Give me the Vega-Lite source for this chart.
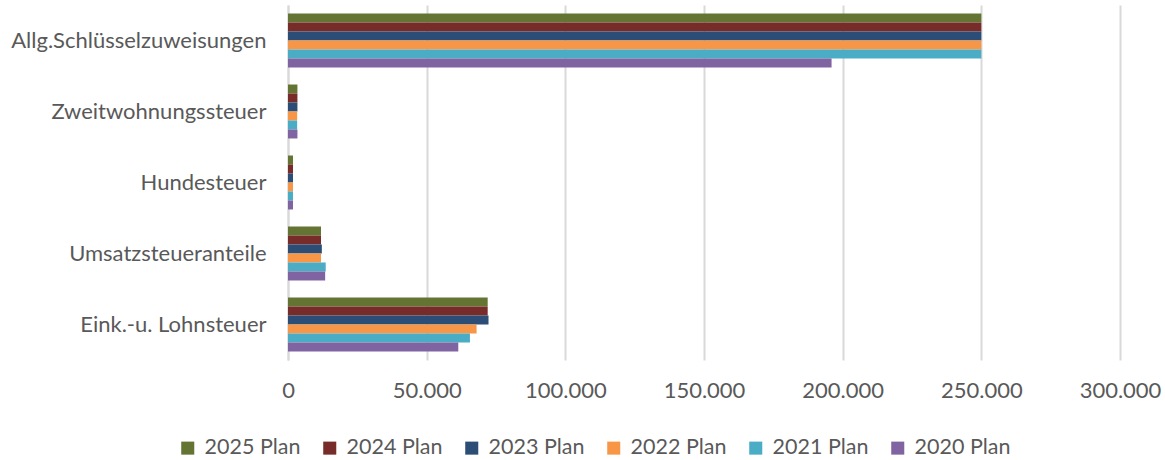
{
  "$schema": "https://vega.github.io/schema/vega-lite/v6.json",
  "autosize": "none",
  "width": 832,
  "height": 355,
  "padding": {"left": 288, "top": 5, "right": 45, "bottom": 100},
  "background": "white",
  "config": {
    "font": "Lato",
    "view": {"stroke": null}
  },
  "data": {
    "values": [
      {"kategorie": "Allg.Schlüsselzuweisungen", "serie": "2025 Plan", "wert": 250000},
      {"kategorie": "Allg.Schlüsselzuweisungen", "serie": "2024 Plan", "wert": 250000},
      {"kategorie": "Allg.Schlüsselzuweisungen", "serie": "2023 Plan", "wert": 250000},
      {"kategorie": "Allg.Schlüsselzuweisungen", "serie": "2022 Plan", "wert": 250000},
      {"kategorie": "Allg.Schlüsselzuweisungen", "serie": "2021 Plan", "wert": 250000},
      {"kategorie": "Allg.Schlüsselzuweisungen", "serie": "2020 Plan", "wert": 196000},
      {"kategorie": "Zweitwohnungssteuer ", "serie": "2025 Plan", "wert": 3400},
      {"kategorie": "Zweitwohnungssteuer ", "serie": "2024 Plan", "wert": 3400},
      {"kategorie": "Zweitwohnungssteuer ", "serie": "2023 Plan", "wert": 3400},
      {"kategorie": "Zweitwohnungssteuer ", "serie": "2022 Plan", "wert": 3300},
      {"kategorie": "Zweitwohnungssteuer ", "serie": "2021 Plan", "wert": 3300},
      {"kategorie": "Zweitwohnungssteuer ", "serie": "2020 Plan", "wert": 3400},
      {"kategorie": "Hundesteuer", "serie": "2025 Plan", "wert": 1800},
      {"kategorie": "Hundesteuer", "serie": "2024 Plan", "wert": 1800},
      {"kategorie": "Hundesteuer", "serie": "2023 Plan", "wert": 1800},
      {"kategorie": "Hundesteuer", "serie": "2022 Plan", "wert": 1800},
      {"kategorie": "Hundesteuer", "serie": "2021 Plan", "wert": 1800},
      {"kategorie": "Hundesteuer", "serie": "2020 Plan", "wert": 1800},
      {"kategorie": "Umsatzsteueranteile", "serie": "2025 Plan", "wert": 11900},
      {"kategorie": "Umsatzsteueranteile", "serie": "2024 Plan", "wert": 11900},
      {"kategorie": "Umsatzsteueranteile", "serie": "2023 Plan", "wert": 12200},
      {"kategorie": "Umsatzsteueranteile", "serie": "2022 Plan", "wert": 11900},
      {"kategorie": "Umsatzsteueranteile", "serie": "2021 Plan", "wert": 13600},
      {"kategorie": "Umsatzsteueranteile", "serie": "2020 Plan", "wert": 13400},
      {"kategorie": "Eink.-u. Lohnsteuer", "serie": "2025 Plan", "wert": 72000},
      {"kategorie": "Eink.-u. Lohnsteuer", "serie": "2024 Plan", "wert": 72000},
      {"kategorie": "Eink.-u. Lohnsteuer", "serie": "2023 Plan", "wert": 72300},
      {"kategorie": "Eink.-u. Lohnsteuer", "serie": "2022 Plan", "wert": 68000},
      {"kategorie": "Eink.-u. Lohnsteuer", "serie": "2021 Plan", "wert": 65600},
      {"kategorie": "Eink.-u. Lohnsteuer", "serie": "2020 Plan", "wert": 61400}
    ]
  },
  "mark": {"type": "bar"},
  "encoding": {
    "y": {
      "field": "kategorie",
      "type": "nominal",
      "sort": ["Allg.Schlüsselzuweisungen", "Zweitwohnungssteuer ", "Hundesteuer", "Umsatzsteueranteile", "Eink.-u. Lohnsteuer"],
      "scale": {"paddingInner": 0.24, "paddingOuter": 0.12},
      "axis": {
        "title": null,
        "ticks": false,
        "domainColor": "#D9D9D9",
        "domainWidth": 2,
        "labelFontSize": 22,
        "labelColor": "#595959",
        "labelPadding": 22,
        "labelLimit": 300
      }
    },
    "yOffset": {
      "field": "serie",
      "type": "nominal",
      "sort": ["2025 Plan", "2024 Plan", "2023 Plan", "2022 Plan", "2021 Plan", "2020 Plan"],
      "scale": {"paddingInner": 0}
    },
    "x": {
      "field": "wert",
      "type": "quantitative",
      "scale": {"domain": [0, 300000], "nice": false},
      "axis": {
        "title": null,
        "values": [0, 50000, 100000, 150000, 200000, 250000, 300000],
        "format": ",.0f",
        "labelExpr": "replace(datum.label, /,/g, '.')",
        "labelFlush": false,
        "domain": false,
        "ticks": false,
        "gridColor": "#D9D9D9",
        "gridWidth": 2,
        "labelFontSize": 22,
        "labelColor": "#595959",
        "labelPadding": 20
      }
    },
    "color": {
      "field": "serie",
      "type": "nominal",
      "sort": ["2025 Plan", "2024 Plan", "2023 Plan", "2022 Plan", "2021 Plan", "2020 Plan"],
      "scale": {
        "domain": ["2025 Plan", "2024 Plan", "2023 Plan", "2022 Plan", "2021 Plan", "2020 Plan"],
        "range": ["#637433", "#772C2A", "#2C4D75", "#F79646", "#4BACC6", "#8064A2"]
      },
      "legend": {
        "title": null,
        "orient": "none",
        "direction": "horizontal",
        "legendX": -111,
        "legendY": 432,
        "symbolType": "square",
        "symbolSize": 170,
        "symbolStrokeWidth": 0,
        "labelFontSize": 21.5,
        "labelColor": "#595959",
        "columnPadding": 18,
        "labelOffset": 6
      }
    }
  }
}
